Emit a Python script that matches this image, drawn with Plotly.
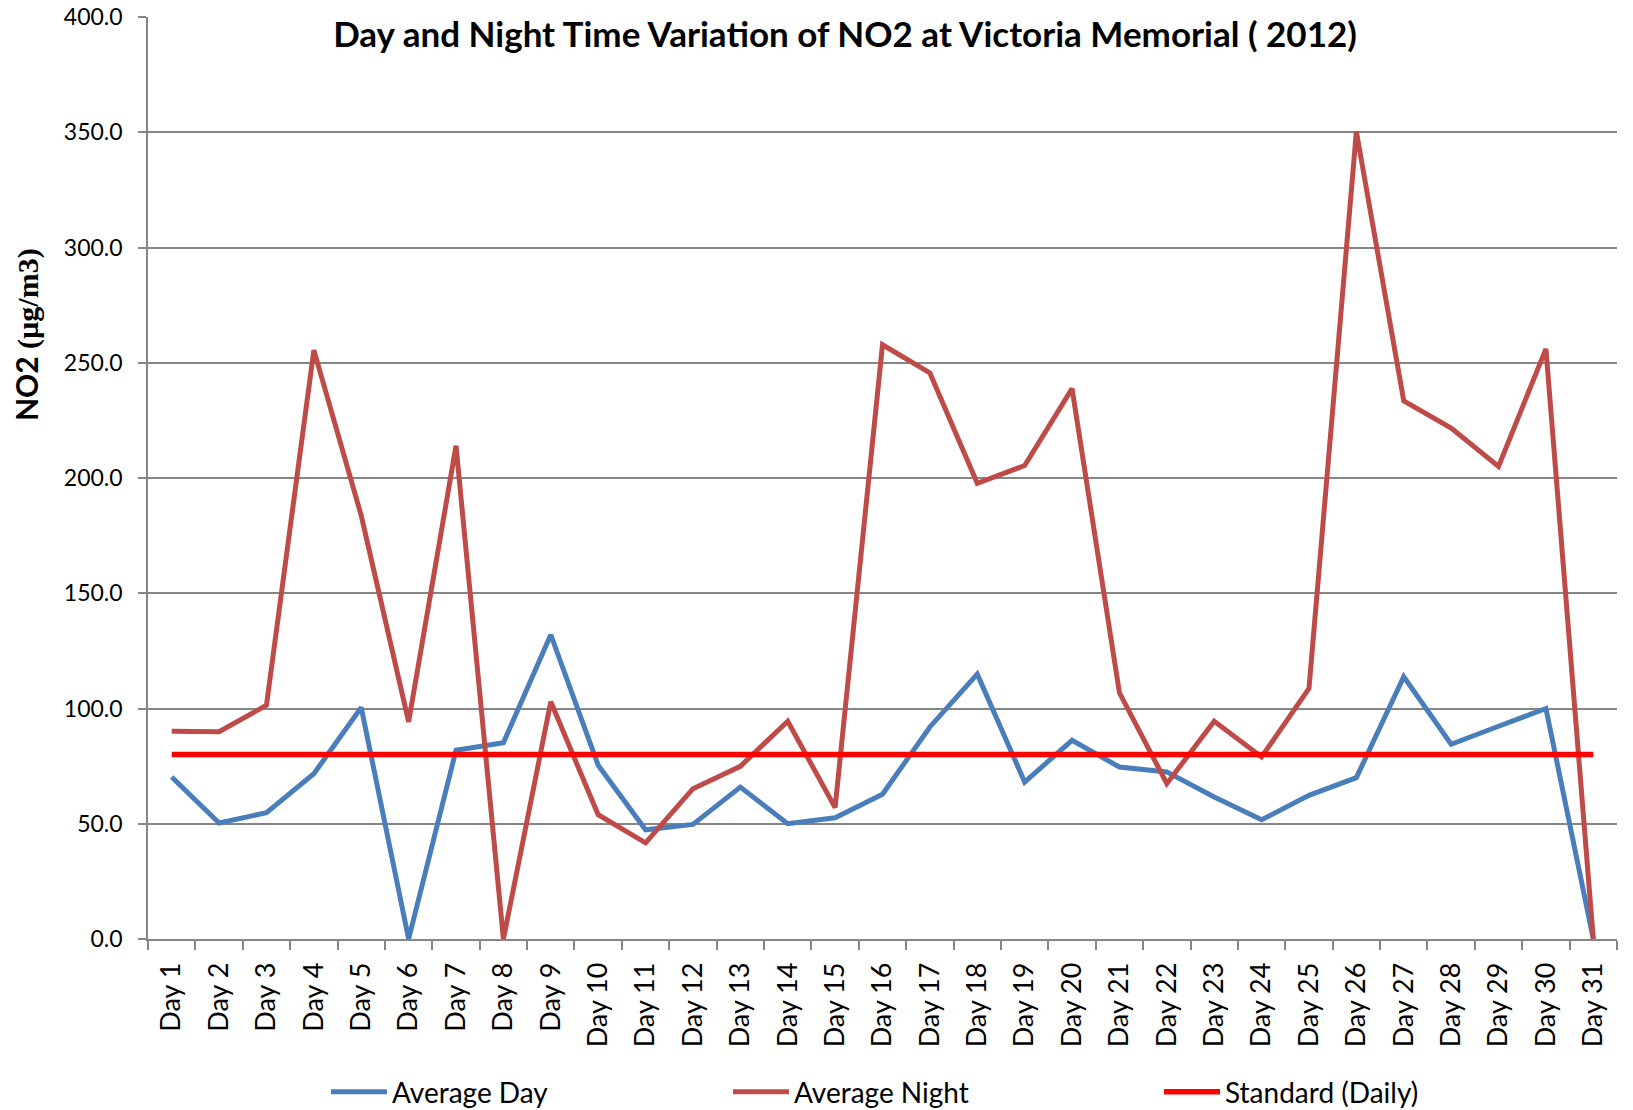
import plotly.graph_objects as go

days = [f"Day {i}" for i in range(1, 32)]
avg_day = [70.3, 50.3, 54.8, 71.7, 100.4, 0.0, 81.9, 85.1, 132.0, 75.4,
           47.4, 49.7, 65.9, 50.0, 52.6, 62.8, 92.0, 114.9, 68.1, 86.2,
           74.6, 72.5, 61.6, 51.7, 62.3, 70.0, 113.8, 84.5, 92.3, 100.0, 0.0]
avg_night = [90.1, 89.9, 101.4, 255.5, 183.7, 94.2, 214.0, 0.0, 102.9, 53.9,
             41.7, 65.2, 74.9, 94.5, 57.0, 257.8, 245.6, 197.7, 205.4, 238.8,
             106.8, 67.4, 94.5, 79.0, 108.7, 350.3, 233.4, 221.7, 205.0, 256.0, 0.0]
standard = [80.0] * 31
y_ticks = [0, 50, 100, 150, 200, 250, 300, 350, 400]

W, H = 1633, 1110
L, R, T, B = 148, 16, 17, 171
FONT = "Lato"

fig = go.Figure()
fig.add_trace(go.Scatter(x=days, y=avg_day, mode="lines", name="Average Day",
                         line=dict(color="#4A7EBB", width=5), legend="legend"))
fig.add_trace(go.Scatter(x=days, y=avg_night, mode="lines", name="Average Night",
                         line=dict(color="#BE4B48", width=5), legend="legend2"))
fig.add_trace(go.Scatter(x=days, y=standard, mode="lines", name="Standard (Daily)",
                         line=dict(color="#FF0000", width=5.5), legend="legend3"))

def leg(px):
    return dict(orientation="h", xref="container", yref="container",
                x=px / W, y=1 - 1092 / H, xanchor="left", yanchor="middle",
                font=dict(family=FONT, size=28, color="#000"),
                itemwidth=56, bgcolor="rgba(0,0,0,0)", tracegroupgap=0)

fig.update_layout(
    width=W, height=H,
    margin=dict(l=L, r=R, t=T, b=B, pad=0, autoexpand=False),
    paper_bgcolor="white", plot_bgcolor="white",
    font=dict(family=FONT, color="#000"),
    showlegend=True,
    title=dict(text="<b>Day and Night Time Variation of NO2 at Victoria Memorial ( 2012)</b>",
               xref="container", yref="container", x=845 / W, y=1 - 35 / H,
               xanchor="center", yanchor="middle",
               font=dict(family=FONT, size=35, color="#000")),
    legend=leg(326), legend2=leg(728), legend3=leg(1159),
    xaxis=dict(type="category", range=[-0.5, 30.5], tickson="boundaries",
               ticks="outside", ticklen=9, tickwidth=1.5, tickcolor="#868686",
               showline=True, linecolor="#868686", linewidth=1.5,
               showgrid=False, tickangle=-90, ticklabelstandoff=11,
               ticklabeloverflow="allow",
               tickfont=dict(family=FONT, size=27, color="#000")),
    yaxis=dict(range=[0, 400], tickvals=y_ticks,
               ticktext=[f"{v:.1f}" for v in y_ticks],
               ticks="outside", ticklen=8, tickwidth=1.5, tickcolor="#868686",
               showline=True, linecolor="#868686", linewidth=1.5,
               showgrid=True, gridcolor="#868686", gridwidth=1.5,
               zeroline=False, ticklabelstandoff=11,
               ticklabeloverflow="allow",
               tickfont=dict(family=FONT, size=23, color="#000")),
    annotations=[dict(
        text="<b>NO2 <span style=\"font-family:'Liberation Serif'\">(µg/m3)</span></b>",
        xref="paper", yref="paper", x=(26 - 148) / 1469, y=(939 - 335) / 922,
        xanchor="center", yanchor="middle", textangle=-90, showarrow=False,
        font=dict(family=FONT, size=30, color="#000"))],
)

fig.write_html("out.html",
               config={"displayModeBar": False},
               post_script="document.body.style.margin='0';document.body.style.overflow='hidden';")
